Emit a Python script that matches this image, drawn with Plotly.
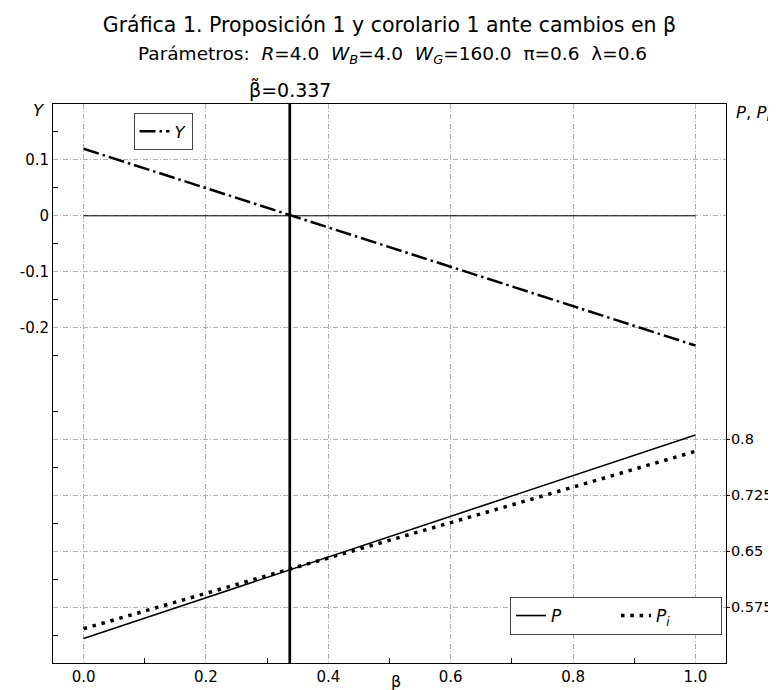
import plotly.graph_objects as go

# ---- data ----
beta = [0.0, 0.25, 0.5, 0.75, 1.0]
Y_vals = [0.120, 0.032, -0.056, -0.144, -0.232]
P_vals = [0.533, 0.601, 0.669, 0.738, 0.806]
Pi_vals = [0.546, 0.605, 0.665, 0.724, 0.784]
beta_tilde = 0.337

x_ticks = [0.0, 0.2, 0.4, 0.6, 0.8, 1.0]
x_tick_text = ["0.0", "0.2", "0.4", "0.6", "0.8", "1.0"]
x_minor = [0.1, 0.3, 0.5, 0.7, 0.9]
y_ticks = [0.1, 0.0, -0.1, -0.2]
y_tick_text = ["0.1", "0", "-0.1", "-0.2"]
y_minor = [0.15, 0.05, -0.05, -0.15, -0.25, -0.35, -0.45, -0.55, -0.65, -0.75]
y2_ticks = [0.575, 0.65, 0.725, 0.8]
y2_tick_text = ["0.575", "0.65", "0.725", "0.8"]

FONT = "DejaVu Sans"
GRID = "#b0b0b0"
GDASH = "5px,2px,1px,2px"
SP = "\u00a0\u00a0"

fig = go.Figure()

fig.add_trace(go.Scatter(x=[0.0, 1.0], y=[0.0, 0.0], mode="lines",
                         line=dict(color="black", width=1), showlegend=False,
                         hoverinfo="skip"))
fig.add_trace(go.Scatter(x=beta, y=Y_vals, mode="lines", name="<i>Y</i>",
                         line=dict(color="black", width=2.5, dash="16px,4px,2.5px,4px"),
                         legend="legend"))
fig.add_trace(go.Scatter(x=beta, y=P_vals, mode="lines", name="<i>P</i>",
                         line=dict(color="black", width=1.6), yaxis="y2",
                         legend="legend2"))
fig.add_trace(go.Scatter(x=beta, y=Pi_vals, mode="lines", name="<i>P<sub>i</sub></i>",
                         line=dict(color="black", width=3.5, dash="3.5px,5.8px"), yaxis="y2",
                         legend="legend2"))

fig.add_shape(type="line", xref="x", yref="paper", x0=beta_tilde, x1=beta_tilde,
              y0=0, y1=1, line=dict(color="black", width=2.7))

fig.update_layout(
    width=776, height=690,
    margin=dict(l=45, r=54, t=96, b=35),
    paper_bgcolor="white", plot_bgcolor="white",
    font=dict(family=FONT, size=15, color="black"),
    title=dict(text="Gráfica 1. Proposición 1 y corolario 1 ante cambios en β",
               x=0.5, xref="paper", xanchor="center", y=1 - 17 / 690, yanchor="middle",
               font=dict(size=20.5, family=FONT, color="black")),
    xaxis=dict(range=[-0.05, 1.05], tickvals=x_ticks, ticktext=x_tick_text,
               showline=True, linecolor="black", linewidth=1, mirror=True,
               showgrid=True, gridcolor=GRID, griddash=GDASH, gridwidth=0.8,
               ticks="", zeroline=False,
               minor=dict(tickvals=x_minor, ticks="inside", ticklen=5, tickcolor="black",
                          tickwidth=1, showgrid=False),
               tickfont=dict(size=15)),
    yaxis=dict(range=[-0.8, 0.2], tickvals=y_ticks, ticktext=y_tick_text,
               showline=True, linecolor="black", linewidth=1,
               showgrid=True, gridcolor=GRID, griddash=GDASH, gridwidth=0.8,
               ticks="", zeroline=False,
               minor=dict(tickvals=y_minor, ticks="inside", ticklen=5, tickcolor="black",
                          tickwidth=1, showgrid=False),
               tickfont=dict(size=15)),
    yaxis2=dict(range=[0.5, 1.25], tickvals=y2_ticks, ticktext=y2_tick_text,
                overlaying="y", side="right",
                showline=True, linecolor="black", linewidth=1,
                showgrid=True, gridcolor=GRID, griddash=GDASH, gridwidth=0.8,
                ticks="outside", ticklen=3, tickcolor="black", zeroline=False,
                ticklabelstandoff=-2,
                tickfont=dict(size=14.5)),
    legend=dict(x=(126 - 45) / 677, y=(655 - 105) / 559, xanchor="left", yanchor="top",
                bgcolor="white", bordercolor="#444444", borderwidth=1,
                font=dict(size=16.5, family=FONT), itemwidth=30),
    legend2=dict(x=(718 - 45) / 677, y=(655 - 627) / 559, xanchor="right", yanchor="bottom",
                 orientation="h", bgcolor="white", bordercolor="#444444", borderwidth=1,
                 font=dict(size=17, family=FONT), itemwidth=30,
                 entrywidth=60, entrywidthmode="pixels"),
    annotations=[
        dict(text="Parámetros:" + SP + "<i>R</i>=4.0" + SP + "<i>W<sub>B</sub></i>=4.0" + SP +
                  "<i>W<sub>G</sub></i>=160.0" + SP + "π=0.6" + SP + "λ=0.6",
             xref="paper", yref="paper", x=(387 - 45) / 677, y=(655 - 47) / 559,
             xanchor="center", yanchor="middle", showarrow=False,
             font=dict(size=18.5, family=FONT)),
        dict(text="β\u0303=0.337", xref="x", yref="paper", x=beta_tilde, y=(655 - 81) / 559,
             xanchor="center", yanchor="middle", showarrow=False,
             font=dict(size=19, family=FONT)),
        dict(text="<i>Y</i>", xref="paper", yref="paper", x=(31 - 45) / 677, y=(655 - 103) / 559,
             xanchor="center", yanchor="middle", showarrow=False,
             font=dict(size=16.5, family=FONT)),
        dict(text="<i>P</i>, <i>P<sub>i</sub></i>", xref="paper", yref="paper",
             x=(730 - 45) / 677, y=(655 - 105) / 559,
             xanchor="left", yanchor="middle", showarrow=False,
             font=dict(size=16.5, family=FONT)),
        dict(text="β", xref="paper", yref="paper", x=(390 - 45) / 677, y=(655 - 674) / 559,
             xanchor="center", yanchor="middle", showarrow=False,
             font=dict(size=16, family=FONT)),
    ],
)

fig.write_html("out.html")
